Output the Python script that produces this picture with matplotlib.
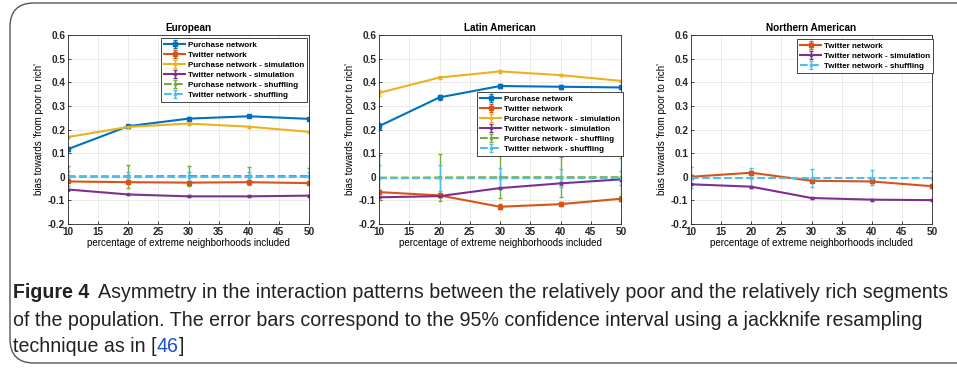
import numpy as np
import matplotlib
matplotlib.use("Agg")
from matplotlib import pyplot as plt
from matplotlib.patches import FancyBboxPatch

plt.rcParams.update({"font.family": ["Liberation Sans", "DejaVu Sans"],
                     "font.size": 7,
                     "font.weight": "bold",
                     "axes.edgecolor": "#262626",
                     "xtick.color": "#262626",
                     "ytick.color": "#262626",
                     "xtick.direction": "in",
                     "ytick.direction": "in"})

# data
pct = [10, 20, 30, 40, 50]

# European
eu_purchase = [0.117, 0.214, 0.246, 0.256, 0.245]
eu_purchase_err = [0.010, 0.007, 0.006, 0.005, 0.005]
eu_twitter = [-0.020, -0.023, -0.025, -0.023, -0.027]
eu_twitter_err = [0.004, 0.004, 0.004, 0.004, 0.004]
eu_purchase_sim = [0.168, 0.211, 0.225, 0.212, 0.190]
eu_purchase_sim_err = [0.004, 0.004, 0.004, 0.004, 0.004]
eu_twitter_sim = [-0.054, -0.075, -0.083, -0.083, -0.080]
eu_twitter_sim_err = [0.004, 0.004, 0.004, 0.004, 0.004]
eu_purchase_shuf = [0.002, 0.002, 0.003, 0.003, 0.003]
eu_purchase_shuf_err = [0.043, 0.048, 0.044, 0.040, 0.035]
eu_twitter_shuf = [0.000, 0.000, 0.000, 0.000, 0.000]
eu_twitter_shuf_err = [0.025, 0.022, 0.020, 0.020, 0.018]

# Latin American
la_purchase = [0.214, 0.336, 0.384, 0.381, 0.378]
la_purchase_err = [0.012, 0.010, 0.009, 0.008, 0.007]
la_twitter = [-0.065, -0.079, -0.127, -0.116, -0.093]
la_twitter_err = [0.008, 0.008, 0.010, 0.009, 0.008]
la_purchase_sim = [0.355, 0.420, 0.446, 0.430, 0.406]
la_purchase_sim_err = [0.012, 0.006, 0.005, 0.005, 0.005]
la_twitter_sim = [-0.087, -0.082, -0.048, -0.028, -0.011]
la_twitter_sim_err = [0.005, 0.005, 0.005, 0.005, 0.005]
la_purchase_shuf = [-0.004, -0.003, -0.002, -0.002, -0.002]
la_purchase_shuf_err = [0.095, 0.100, 0.090, 0.085, 0.080]
la_twitter_shuf = [-0.006, -0.006, -0.006, -0.006, -0.005]
la_twitter_shuf_err = [0.055, 0.055, 0.042, 0.038, 0.030]

# Northern American
na_twitter = [0.000, 0.017, -0.017, -0.020, -0.040]
na_twitter_err = [0.006, 0.006, 0.006, 0.006, 0.006]
na_twitter_sim = [-0.032, -0.042, -0.090, -0.097, -0.099]
na_twitter_sim_err = [0.004, 0.004, 0.004, 0.004, 0.004]
na_twitter_shuf = [-0.004, -0.004, -0.004, -0.004, -0.004]
na_twitter_shuf_err = [0.045, 0.042, 0.038, 0.033, 0.030]

caption_lines = [
    "Asymmetry in the interaction patterns between the relatively poor and the relatively rich segments",
    "of the population. The error bars correspond to the 95% confidence interval using a jackknife resampling",
    "technique as in [",
]

colors = {"blue": "#0072BD", "red": "#D95319", "yellow": "#EDB120",
          "purple": "#7E2F8E", "green": "#77AC30", "cyan": "#4DBEEE"}

W, H = 957, 369
fig = plt.figure(figsize=(W / 100, H / 100), dpi=100)

# rounded frame around the figure panel
frame = FancyBboxPatch((10 / W, 6 / H), 1.2, 360 / H,
                       boxstyle="round,pad=0,rounding_size=0.025",
                       transform=fig.transFigure, fill=False,
                       edgecolor="#555555", linewidth=1.0, mutation_aspect=W / H)
fig.patches.append(frame)


def draw(ax, x, y, err, color, label, ls="-", lw=1.5, ms=3.0):
    ax.errorbar(x, y, yerr=err, color=color, linestyle=ls, linewidth=lw,
                marker="s", markersize=ms, capsize=1.5, elinewidth=1.0,
                label=label)


def style(ax, title, legend_pos):
    ax.set_xlim(10, 50)
    ax.set_ylim(-0.2, 0.6)
    ax.set_xticks(range(10, 51, 5))
    ax.set_yticks(np.arange(-0.2, 0.61, 0.1))
    ax.set_yticklabels(["-0.2", "-0.1", "0", "0.1", "0.2", "0.3", "0.4", "0.5", "0.6"])
    ax.grid(color="#e6e6e6", linewidth=0.6)
    ax.set_axisbelow(True)
    ax.tick_params(length=2.5, width=0.6, pad=2, labelsize=7.2)
    for s in ax.spines.values():
        s.set_linewidth(0.6)
    ax.set_title(title, fontsize=7.2, fontweight="bold", pad=3)
    ax.set_xlabel("percentage of extreme neighborhoods included", fontsize=7, labelpad=1)
    ax.set_ylabel("bias towards 'from poor to rich'", fontsize=7, labelpad=3)
    leg = ax.legend(loc="upper left", bbox_to_anchor=legend_pos, fontsize=5.8,
                    handlelength=2.6, handletextpad=0.3, borderpad=0.4,
                    labelspacing=0.3, fancybox=False, framealpha=1,
                    edgecolor="#262626", borderaxespad=0)
    leg.get_frame().set_linewidth(0.6)


def axes_px(left, right):
    return fig.add_axes([left / W, (H - 224) / H, (right - left) / W, 189 / H])


ax1 = axes_px(68, 309)
draw(ax1, pct, eu_purchase, eu_purchase_err, colors["blue"], "Purchase network")
draw(ax1, pct, eu_twitter, eu_twitter_err, colors["red"], "Twitter network")
draw(ax1, pct, eu_purchase_sim, eu_purchase_sim_err, colors["yellow"], "Purchase network - simulation", ms=2)
draw(ax1, pct, eu_twitter_sim, eu_twitter_sim_err, colors["purple"], "Twitter network - simulation", ms=2)
draw(ax1, pct, eu_purchase_shuf, eu_purchase_shuf_err, colors["green"], "Purchase network - shuffling", ls="--", ms=2)
draw(ax1, pct, eu_twitter_shuf, eu_twitter_shuf_err, colors["cyan"], "Twitter network - shuffling", ls="--", ms=2)
style(ax1, "European", (0.386, 0.984))

ax2 = axes_px(379, 621)
draw(ax2, pct, la_purchase, la_purchase_err, colors["blue"], "Purchase network")
draw(ax2, pct, la_twitter, la_twitter_err, colors["red"], "Twitter network")
draw(ax2, pct, la_purchase_sim, la_purchase_sim_err, colors["yellow"], "Purchase network - simulation", ms=2)
draw(ax2, pct, la_twitter_sim, la_twitter_sim_err, colors["purple"], "Twitter network - simulation", ms=2)
draw(ax2, pct, la_purchase_shuf, la_purchase_shuf_err, colors["green"], "Purchase network - shuffling", ls="--", ms=2)
draw(ax2, pct, la_twitter_shuf, la_twitter_shuf_err, colors["cyan"], "Twitter network - shuffling", ls="--", ms=2)
style(ax2, "Latin American", (0.405, 0.698))

ax3 = axes_px(691, 932)
draw(ax3, pct, na_twitter, na_twitter_err, colors["red"], "Twitter network")
draw(ax3, pct, na_twitter_sim, na_twitter_sim_err, colors["purple"], "Twitter network - simulation", ms=2)
draw(ax3, pct, na_twitter_shuf, na_twitter_shuf_err, colors["cyan"], "Twitter network - shuffling", ls="--", ms=2)
style(ax3, "Northern American", (0.44, 0.979))

# caption, font size fitted so that the longest line ends near x=945
cap_font = ["Liberation Sans Narrow", "Liberation Sans", "DejaVu Sans"]
ink = "#222222"
renderer = fig.canvas.get_renderer()


def caption(fs):
    y1, y2, y3 = 1 - 293 / H, 1 - 320 / H, 1 - 347 / H
    t0 = fig.text(13 / W, y1, "Figure 4", fontsize=fs, fontweight="bold",
                  family=cap_font, va="center", color=ink)
    x = t0.get_window_extent(renderer).x1 + 0.6 * fs
    t1 = fig.text(x / W, y1, caption_lines[0], fontsize=fs, fontweight="normal",
                  family=cap_font, va="center", color=ink)
    t2 = fig.text(13 / W, y2, caption_lines[1], fontsize=fs, fontweight="normal",
                  family=cap_font, va="center", color=ink)
    t3 = fig.text(13 / W, y3, caption_lines[2], fontsize=fs, fontweight="normal",
                  family=cap_font, va="center", color=ink)
    x = t3.get_window_extent(renderer).x1
    t4 = fig.text(x / W, y3, "46", fontsize=fs, fontweight="normal",
                  family=cap_font, va="center", color="#1f4fd0")
    x = t4.get_window_extent(renderer).x1
    t5 = fig.text(x / W, y3, "]", fontsize=fs, fontweight="normal",
                  family=cap_font, va="center", color=ink)
    return [t0, t1, t2, t3, t4, t5]


fs = 13
for _ in range(3):
    texts = caption(fs)
    right = texts[1].get_window_extent(renderer).x1
    if abs(right - 945) < 2:
        break
    for t in texts:
        t.remove()
    fs = fs * (945 - 13) / (right - 13)
else:
    texts = caption(fs)

fig.savefig("out.png", dpi=100)
